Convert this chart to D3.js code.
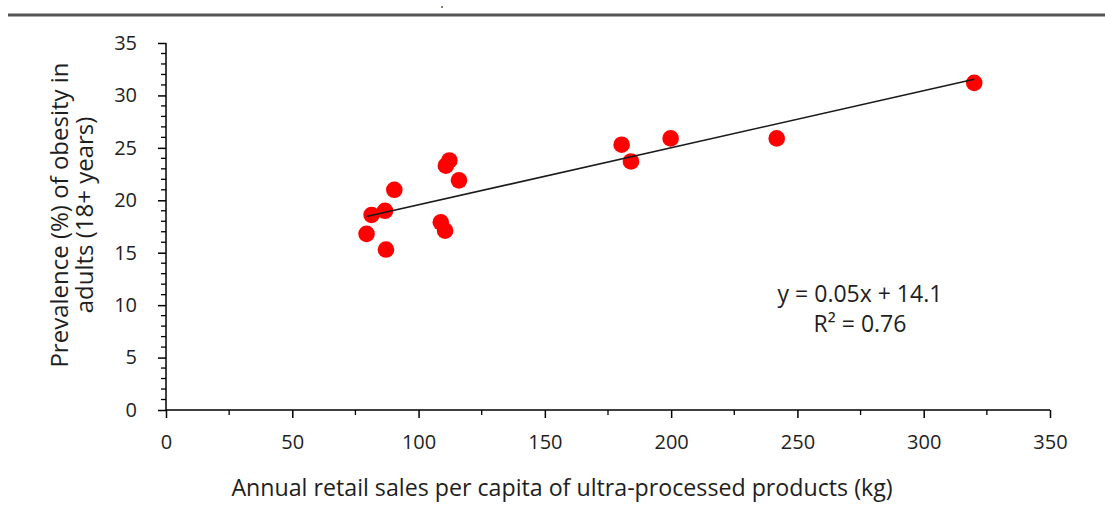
<!DOCTYPE html>
<html>
<head>
<meta charset="utf-8">
<script src="https://cdn.jsdelivr.net/npm/d3@7"></script>
<style>
  html, body { margin: 0; padding: 0; background: #fff; }
  svg { display: block; }
  text { font-family: "Open Sans", "Lato", sans-serif; }
</style>
</head>
<body>
<svg id="chart" width="1105" height="524"></svg>
<script>
// ---- data ----
const salesKg = [79.4, 81.4, 86.7, 87.1, 90.4, 108.8, 110.5, 110.8, 112.2, 116.0, 180.4, 184.1, 199.8, 241.8, 320.0];
const obesityPct = [16.8, 18.6, 19.0, 15.3, 21.0, 17.9, 17.1, 23.3, 23.8, 21.9, 25.3, 23.7, 25.9, 25.9, 31.2];
const xTicks = [0, 50, 100, 150, 200, 250, 300, 350];
const yTicks = [0, 5, 10, 15, 20, 25, 30, 35];
const equationLines = ["y = 0.05x + 14.1", "R² = 0.76"];
const xTitle = "Annual retail sales per capita of ultra-processed products (kg)";
const yTitleLines = ["Prevalence (%) of obesity in", "adults (18+ years)"];

const svg = d3.select("#chart");
const x = d3.scaleLinear().domain([0, 350]).range([166, 1050]);
const y = d3.scaleLinear().domain([0, 35]).range([410, 43]);

// top rule
svg.append("line").attr("x1", 8).attr("x2", 1105).attr("y1", 15).attr("y2", 15)
  .attr("stroke", "#555").attr("stroke-width", 3);
svg.append("rect").attr("x", 441).attr("y", 6).attr("width", 2).attr("height", 2).attr("fill", "#8a7a6a");

const tickFont = "20px";
const txtColor = "#1e1e1e";

// minor ticks
const xMinor = d3.range(25, 350, 50);
svg.append("g").selectAll("line").data(xMinor).join("line")
  .attr("x1", d => x(d)).attr("x2", d => x(d)).attr("y1", 410).attr("y2", 415)
  .attr("stroke", "#000").attr("stroke-width", 1.3);
const yMinor = d3.range(1, 35).filter(v => v % 5 !== 0);
svg.append("g").selectAll("line").data(yMinor).join("line")
  .attr("x1", 161).attr("x2", 166).attr("y1", d => y(d)).attr("y2", d => y(d))
  .attr("stroke", "#000").attr("stroke-width", 1.3);

// axes
const xAxis = d3.axisBottom(x).tickValues(xTicks).tickSize(8).tickPadding(17).tickFormat(d3.format("d"));
const gx = svg.append("g").attr("transform", "translate(0,410)").call(xAxis);
gx.select(".domain").attr("stroke", "#000").attr("stroke-width", 1.5).attr("d", `M${x(0)},0H${x(350)}`);
gx.selectAll(".tick line").attr("stroke", "#000").attr("stroke-width", 1.5);
gx.selectAll(".tick text").attr("font-size", tickFont).attr("fill", txtColor)
  .style("font-family", "'Open Sans', sans-serif");

const yAxis = d3.axisLeft(y).tickValues(yTicks).tickSize(8).tickPadding(21).tickFormat(d3.format("d"));
const gy = svg.append("g").attr("transform", `translate(${x(0)},0)`).call(yAxis);
gy.select(".domain").attr("stroke", "#000").attr("stroke-width", 1.5).attr("d", `M0,${y(35)}V${y(0)}`);
gy.selectAll(".tick line").attr("stroke", "#000").attr("stroke-width", 1.5);
gy.selectAll(".tick text").attr("font-size", tickFont).attr("fill", txtColor)
  .style("font-family", "'Open Sans', sans-serif");

// points
svg.append("g").selectAll("circle").data(salesKg).join("circle")
  .attr("cx", d => x(d)).attr("cy", (d, i) => y(obesityPct[i])).attr("r", 8.3)
  .attr("fill", "#ff0000");

// regression line computed from the data (drawn over the markers)
const mx = d3.mean(salesKg), my = d3.mean(obesityPct);
let sxy = 0, sxx = 0;
salesKg.forEach((v, i) => { sxy += (v - mx) * (obesityPct[i] - my); sxx += (v - mx) * (v - mx); });
const slope = sxy / sxx, intercept = my - slope * mx;
const x0 = d3.min(salesKg), x1 = d3.max(salesKg);
svg.append("line")
  .attr("x1", x(x0)).attr("y1", y(intercept + slope * x0))
  .attr("x2", x(x1)).attr("y2", y(intercept + slope * x1))
  .attr("stroke", "#1a1a1a").attr("stroke-width", 1.6);

// equation
svg.append("g").selectAll("text").data(equationLines).join("text")
  .attr("x", 860).attr("y", (d, i) => 302 + i * 30)
  .attr("text-anchor", "middle").attr("font-size", "23px").attr("fill", txtColor)
  .text(d => d);

// titles
svg.append("text").attr("x", 562).attr("y", 496).attr("text-anchor", "middle")
  .attr("font-size", "23.2px").attr("fill", txtColor).text(xTitle);

svg.append("g").attr("transform", "translate(0,215) rotate(-90)")
  .selectAll("text").data(yTitleLines).join("text")
  .attr("x", 0).attr("y", (d, i) => 68 + i * 25)
  .attr("text-anchor", "middle").attr("font-size", "24px").attr("fill", txtColor)
  .text(d => d);
</script>
</body>
</html>
